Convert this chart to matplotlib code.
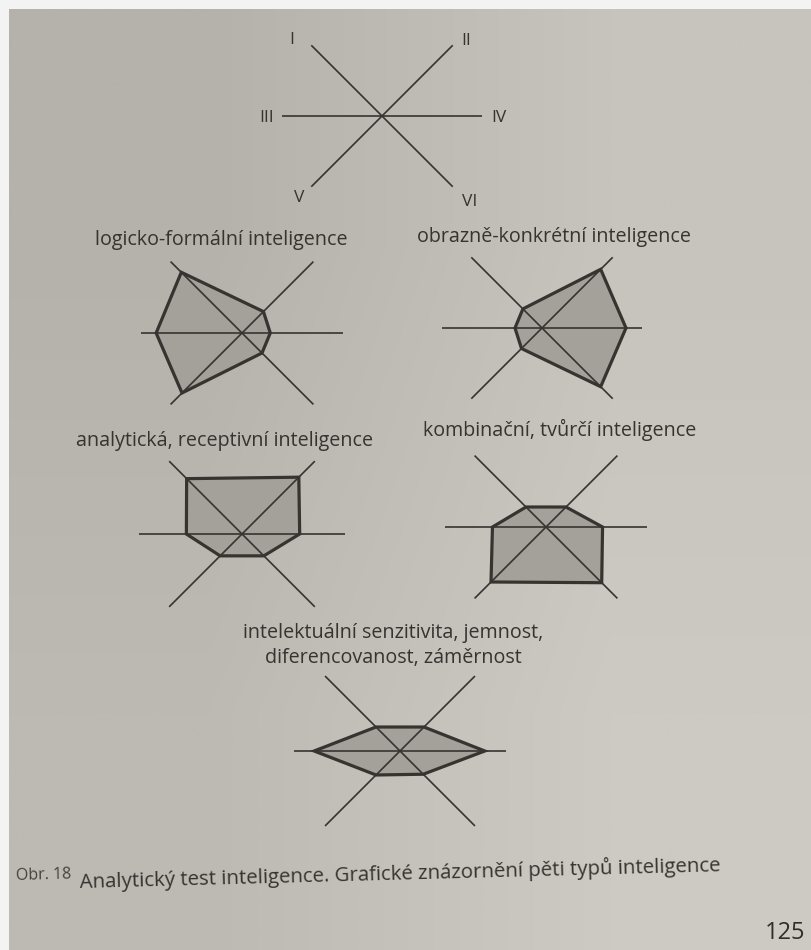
import numpy as np
import matplotlib
matplotlib.use("Agg")
import matplotlib.pyplot as plt

plt.rcParams['font.family'] = ['Open Sans', 'DejaVu Sans']

# axis names and their directions (deg)
axis_names = ['I', 'II', 'III', 'IV', 'V', 'VI']
axis_angles = [135, 45, 180, 0, 225, 315]
scale_max = 10.0

titles = [
    ['logicko-formální inteligence'],
    ['obrazně-konkrétní inteligence'],
    ['analytická, receptivní inteligence'],
    ['kombinační, tvůrčí inteligence'],
    ['intelektuální senzitivita, jemnost,', 'diferencovanost, záměrnost'],
]
# values on axes I..VI (scale 0-10)
logicko = [8.5, 3.0, 8.5, 2.8, 8.4, 2.8]
obrazne = [2.7, 8.3, 2.7, 8.4, 2.9, 8.3]
analyticka = [7.6, 7.8, 5.4, 5.6, 3.0, 3.0]
kombinacni = [2.8, 2.8, 5.3, 5.6, 7.7, 7.8]
intelektualni = [3.2, 3.2, 8.1, 8.0, 3.2, 3.1]
profiles = [logicko, obrazne, analyticka, kombinacni, intelektualni]

caption_num = 'Obr. 18'
caption = 'Analytický test inteligence. Grafické znázornění pěti typů inteligence'
page_no = '125'

# layout in pixels: centre x, centre y, axis length
key_pos = (382, 116, 100)
key_label_off = [(-90, -76), (84, -75), (-115, 2), (117, 2), (-83, 82), (88, 86)]
diag_pos = [(242, 333, 101), (542, 328, 100), (242, 534, 103),
            (546, 527, 101), (400, 751, 106)]
title_pos = [(221, 245), (554, 242), (225, 446), (560, 436), (393, 638)]

ink = '#363331'
fill_c = '#a4a19b'

fig = plt.figure(figsize=(8.12, 9.5), dpi=100, facecolor='#f3f3f3')
ax = fig.add_axes([0, 0, 1, 1])
ax.set_xlim(0, 812)
ax.set_ylim(950, 0)
ax.axis('off')

# page paper with slight lighting falloff
paper = np.array([[[181, 178, 171], [199, 196, 189]],
                  [[189, 186, 179], [205, 202, 195]]]) / 255.0
ax.imshow(paper, extent=[9, 812, 950, 9], interpolation='bilinear',
          aspect='auto', zorder=0)

ang = np.deg2rad(axis_angles)


def draw_axes(cx, cy, R, lw=1.2):
    for a in ang:
        ax.plot([cx, cx + R * np.cos(a)], [cy, cy - R * np.sin(a)],
                color=ink, lw=lw, solid_capstyle='butt', zorder=3)


# key diagram
cx, cy, R = key_pos
draw_axes(cx, cy, R)
for name, (dx, dy) in zip(axis_names, key_label_off):
    ax.text(cx + dx, cy + dy, name, ha='center', va='center',
            fontsize=12.5, color=ink)

# profile diagrams
order = [0, 1, 3, 5, 4, 2]   # I, II, IV, VI, V, III around the polygon
for vals, (cx, cy, R), title, (tx, ty) in zip(profiles, diag_pos, titles, title_pos):
    v = np.array(vals)[order] / scale_max * R
    a = ang[order]
    xs = cx + v * np.cos(a)
    ys = cy - v * np.sin(a)
    ax.fill(xs, ys, color=fill_c, zorder=2)
    ax.fill(xs, ys, facecolor='none', edgecolor=ink, lw=2.3, joinstyle='miter', zorder=4)
    draw_axes(cx, cy, R)
    for i, line in enumerate(title):
        ax.text(tx, ty + 25 * i, line, ha='center', va='baseline', fontsize=14.2,
                color=ink)

# caption
ax.text(16, 880, caption_num, ha='left', va='baseline', fontsize=11.5, color='#46433f',
        rotation=1.5, rotation_mode='anchor')
ax.text(80, 888, caption, ha='left', va='baseline', fontsize=14.7, color=ink,
        rotation=1.5, rotation_mode='anchor')
ax.text(805, 939, page_no, ha='right', va='baseline', fontsize=17, color='#2f2d2b')

fig.savefig('out.png', dpi=100, facecolor=fig.get_facecolor())
